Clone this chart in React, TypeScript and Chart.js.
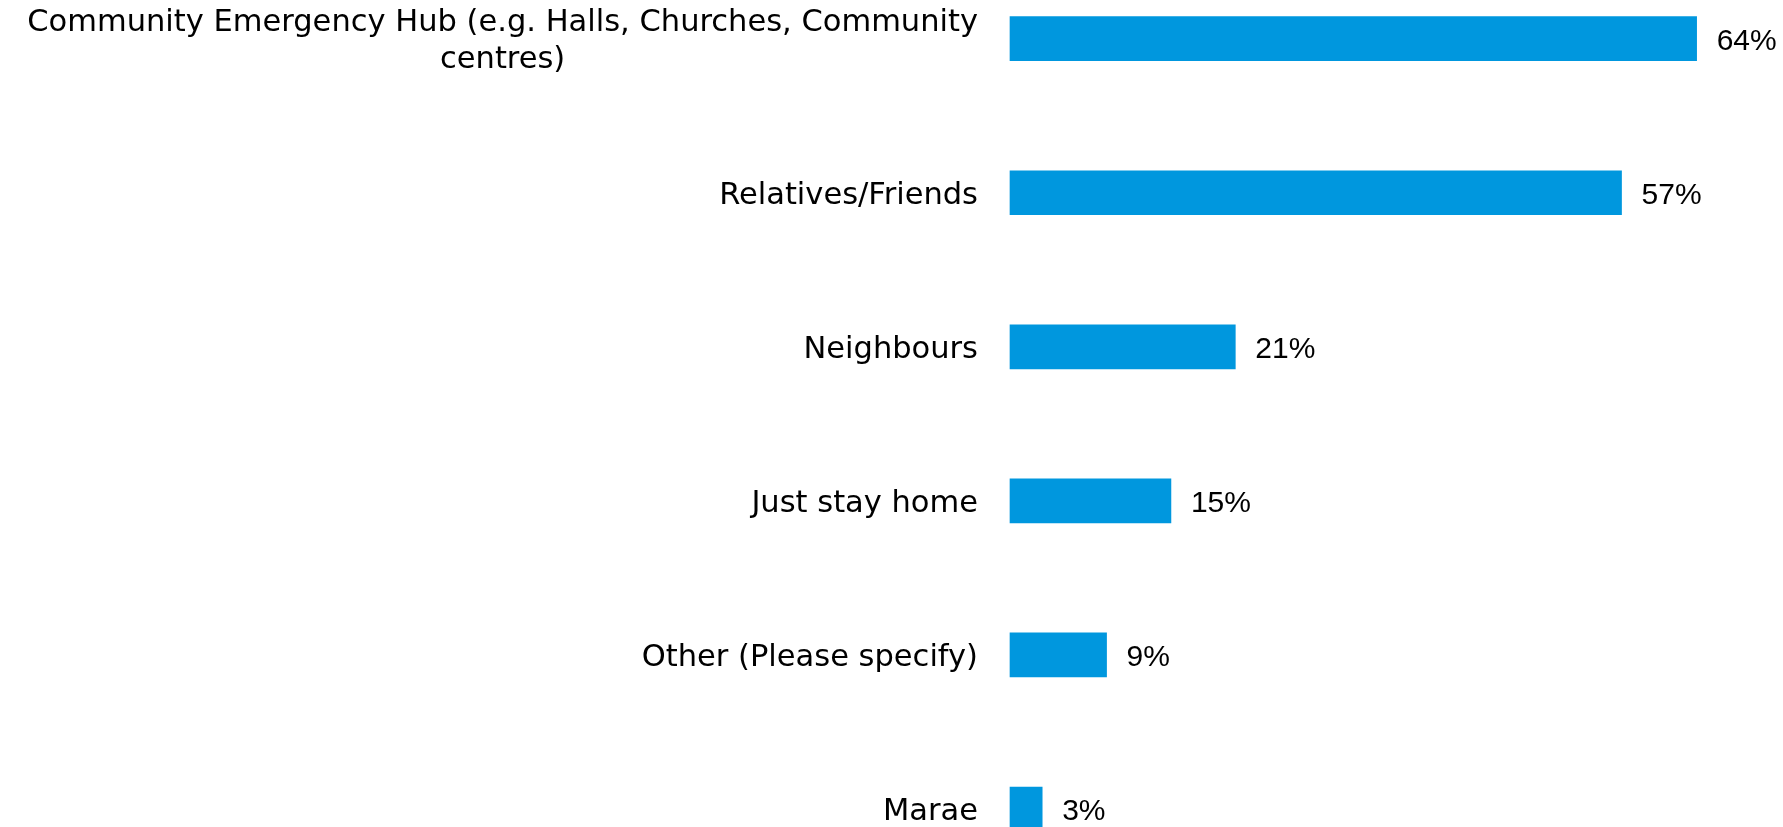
import React, { useEffect, useRef } from "react";
import { Chart, registerables } from "chart.js";

Chart.register(...registerables);

const categories: string[][] = [
  ["Community Emergency Hub (e.g. Halls, Churches, Community", "centres)"],
  ["Relatives/Friends"],
  ["Neighbours"],
  ["Just stay home"],
  ["Other (Please specify)"],
  ["Marae"],
];
const values: number[] = [64, 57, 21, 15, 9, 3];
const valueLabels: string[] = ["64%", "57%", "21%", "15%", "9%", "3%"];

const FONT = '30.5px "DejaVu Sans", sans-serif';
const VALUE_FONT = '30px "Liberation Sans", Arial, sans-serif';
const BAR_COLOR = "#0097DE";

const labelPlugin = {
  id: "customLabels",
  afterDatasetsDraw(chart: any) {
    const ctx = chart.ctx;
    const yScale = chart.scales.y;
    const meta = chart.getDatasetMeta(0);
    const labelRight = chart.chartArea.left - 32;
    const lineHeight = 37;
    ctx.save();
    ctx.font = FONT;
    ctx.fillStyle = "#000";
    ctx.textBaseline = "middle";
    categories.forEach((lines, i) => {
      const cy = yScale.getPixelForValue(i) + 3;
      if (lines.length === 1) {
        ctx.textAlign = "right";
        ctx.fillText(lines[0], labelRight, cy);
      } else {
        const widest = Math.max(...lines.map((l) => ctx.measureText(l).width));
        const cx = labelRight - widest / 2;
        ctx.textAlign = "center";
        const startY = cy - ((lines.length - 1) * lineHeight) / 2;
        lines.forEach((l, j) => ctx.fillText(l, cx, startY + j * lineHeight));
      }
    });
    ctx.font = VALUE_FONT;
    ctx.textAlign = "left";
    meta.data.forEach((bar: any, i: number) => {
      ctx.fillText(valueLabels[i], bar.x + 20, bar.y + 3);
    });
    ctx.restore();
  },
};

export default function App() {
  const canvasRef = useRef<HTMLCanvasElement | null>(null);

  useEffect(() => {
    document.body.style.margin = "0";
    const canvas = canvasRef.current;
    if (!canvas) return;
    const chart = new Chart(canvas, {
      type: "bar",
      data: {
        labels: categories.map((c) => c.join(" ")),
        datasets: [
          {
            data: values,
            backgroundColor: BAR_COLOR,
            barThickness: 44,
            clip: false as any,
          },
        ],
      },
      options: {
        indexAxis: "y",
        animation: false,
        responsive: false,
        maintainAspectRatio: false,
        layout: { padding: { left: 1010, right: 22, top: 38.7, bottom: 18 } },
        plugins: {
          legend: { display: false },
          tooltip: { enabled: false },
        },
        scales: {
          x: { display: false, min: 0, max: 70 },
          y: { display: false, offset: false },
        },
      },
      plugins: [labelPlugin],
    });
    return () => chart.destroy();
  }, []);

  return (
    <div style={{ width: 1783, height: 827 }}>
      <canvas ref={canvasRef} width={1783} height={827} style={{ display: "block" }} />
    </div>
  );
}
